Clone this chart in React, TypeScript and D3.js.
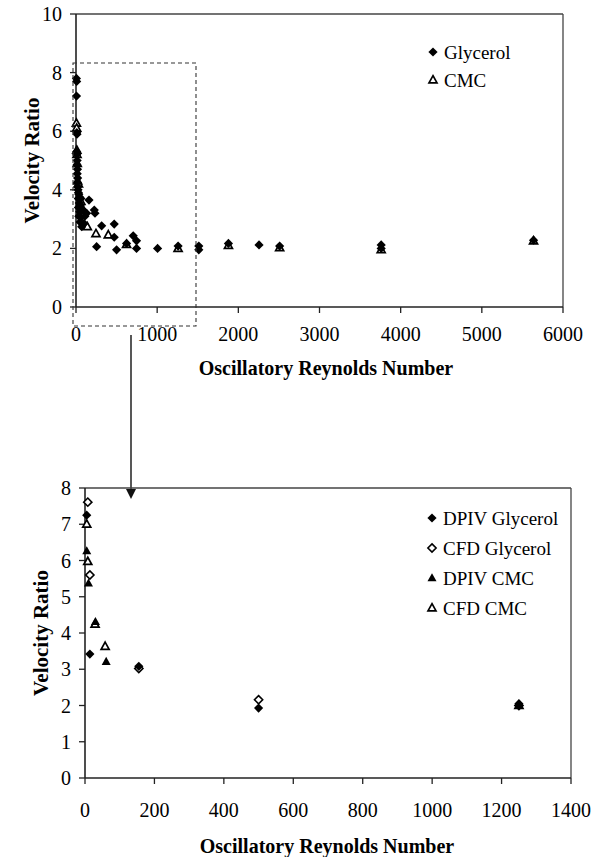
import React from "react";
import * as d3 from "d3";

// ---- Top chart data (Oscillatory Reynolds Number, Velocity Ratio) ----
const topGlycerolRe = [5, 8, 6, 10, 12, 8, 10, 14, 12, 18, 15, 20, 16, 22, 25, 30, 35, 28, 45, 60, 40, 55, 30, 70, 45, 90, 35, 60, 110, 50, 70, 100, 131, 160, 225, 234, 254, 316, 471, 471, 500, 623, 705, 746, 746, 1005, 1258, 1513, 1513, 1878, 2255, 2509, 3760, 3760, 5637];
const topGlycerolVR = [7.8, 7.7, 7.2, 5.95, 5.9, 5.3, 5.2, 5.0, 4.85, 4.7, 4.55, 4.4, 4.25, 4.1, 4.0, 3.9, 3.85, 3.7, 3.75, 3.7, 3.55, 3.45, 3.4, 3.35, 3.25, 3.3, 3.1, 3.05, 3.1, 2.9, 2.74, 2.85, 3.2, 3.65, 3.31, 3.2, 2.06, 2.77, 2.83, 2.38, 1.95, 2.17, 2.43, 2.26, 2.0, 2.0, 2.08, 2.08, 1.95, 2.17, 2.12, 2.08, 2.12, 2.0, 2.28];
const topCmcRe = [5, 8, 10, 12, 15, 20, 30, 60, 70, 139, 246, 398, 623, 1258, 1878, 2509, 3760, 5637];
const topCmcVR = [6.27, 6.1, 5.35, 5.2, 4.9, 4.3, 4.2, 3.6, 3.3, 2.74, 2.5, 2.46, 2.13, 2.0, 2.1, 2.02, 1.95, 2.25];

// ---- Bottom chart data ----
const dpivGlyRe = [5, 14, 155, 500, 1250];
const dpivGlyVR = [7.25, 3.42, 3.08, 1.93, 2.05];
const cfdGlyRe = [8, 14, 155, 500, 1250];
const cfdGlyVR = [7.61, 5.6, 3.02, 2.16, 2.0];
const dpivCmcRe = [5, 10, 30, 61, 1250];
const dpivCmcVR = [6.26, 5.37, 4.31, 3.21, 2.0];
const cfdCmcRe = [5, 8, 29, 58, 1250];
const cfdCmcVR = [7.0, 5.97, 4.24, 3.63, 2.0];

const topXTicks = [0, 1000, 2000, 3000, 4000, 5000, 6000];
const topYTicks = [0, 2, 4, 6, 8, 10];
const botXTicks = [0, 200, 400, 600, 800, 1000, 1200, 1400];
const botYTicks = [0, 1, 2, 3, 4, 5, 6, 7, 8];

const topLegend = ["Glycerol", "CMC"];
const botLegend = ["DPIV Glycerol", "CFD Glycerol", "DPIV CMC", "CFD CMC"];

const FONT = "Liberation Serif";
const AX = "#222";

const diamondPath = (r: number) => `M0,${-r}L${r},0L0,${r}L${-r},0Z`;
const triPath = (w: number) => {
  const h = w * 0.9;
  return `M0,${-h * 0.6}L${w / 2},${h * 0.4}L${-w / 2},${h * 0.4}Z`;
};

type Kind = "fd" | "od" | "ft" | "ot";

function Marker({ kind, x, y }: { kind: Kind; x: number; y: number }) {
  if (kind === "fd") return <path d={diamondPath(4.6)} transform={`translate(${x},${y})`} fill="#000" />;
  if (kind === "od") return <path d={diamondPath(4.1)} transform={`translate(${x},${y})`} fill="#fff" stroke="#000" strokeWidth={1.6} />;
  if (kind === "ft") return <path d={triPath(9)} transform={`translate(${x},${y})`} fill="#000" />;
  return <path d={triPath(8)} transform={`translate(${x},${y})`} fill="#fff" stroke="#000" strokeWidth={1.7} />;
}

function Axes({ x, y, xTicks, yTicks, left, right, top, bottom, xLabelY, xTitleY, yTitleX, xTitleX }: any) {
  return (
    <g>
      <line x1={left} x2={right} y1={top} y2={top} stroke="#444" strokeWidth={1.3} />
      <line x1={right} x2={right} y1={top} y2={bottom} stroke="#444" strokeWidth={1.3} />
      <line x1={left} x2={left} y1={top} y2={bottom} stroke={AX} strokeWidth={1.6} />
      <line x1={left} x2={right} y1={bottom} y2={bottom} stroke={AX} strokeWidth={1.6} />
      {yTicks.map((t: number) => (
        <g key={"y" + t}>
          <line x1={left - 6} x2={left} y1={y(t)} y2={y(t)} stroke={AX} strokeWidth={1.3} />
          <text x={left - 14} y={y(t)} dy="0.35em" textAnchor="end" fontSize={20} fontFamily={FONT}>{t}</text>
        </g>
      ))}
      {xTicks.map((t: number) => (
        <g key={"x" + t}>
          <line x1={x(t)} x2={x(t)} y1={bottom} y2={bottom + 6} stroke={AX} strokeWidth={1.3} />
          <text x={x(t)} y={xLabelY} dy="0.35em" textAnchor="middle" fontSize={20} fontFamily={FONT}>{t}</text>
        </g>
      ))}
      <text x={xTitleX} y={xTitleY} dy="0.35em" textAnchor="middle" fontSize={20} fontWeight="bold" fontFamily={FONT}>
        Oscillatory Reynolds Number
      </text>
      <text transform={`translate(${yTitleX},${(top + bottom) / 2}) rotate(-90)`} dy="0.35em" textAnchor="middle" fontSize={21} fontWeight="bold" fontFamily={FONT}>
        Velocity Ratio
      </text>
    </g>
  );
}

export default function App() {
  // top chart
  const tL = 76, tR = 563, tT = 14, tB = 307;
  const tx = d3.scaleLinear().domain([0, 6000]).range([tL, tR]);
  const ty = d3.scaleLinear().domain([0, 10]).range([tB, tT]);
  // bottom chart
  const bL = 85, bR = 571, bT = 488, bB = 778;
  const bx = d3.scaleLinear().domain([0, 1400]).range([bL, bR]);
  const by = d3.scaleLinear().domain([0, 8]).range([bB, bT]);

  const zip = (a: number[], b: number[]) => a.map((v, i) => [v, b[i]]);

  const botSeries: { kind: Kind; pts: number[][] }[] = [
    { kind: "od", pts: zip(cfdGlyRe, cfdGlyVR) },
    { kind: "ot", pts: zip(cfdCmcRe, cfdCmcVR) },
    { kind: "ft", pts: zip(dpivCmcRe, dpivCmcVR) },
    { kind: "fd", pts: zip(dpivGlyRe, dpivGlyVR) },
  ];
  const botKinds: Kind[] = ["fd", "od", "ft", "ot"];

  return (
    <svg width={600} height={857} style={{ position: "absolute", left: 0, top: 0, background: "#fff" }}>
      <rect width={600} height={857} fill="#fff" />
      {/* Top chart */}
      <Axes x={tx} y={ty} xTicks={topXTicks} yTicks={topYTicks} left={tL} right={tR} top={tT} bottom={tB}
        xLabelY={334} xTitleY={368} yTitleX={32} xTitleX={326} />
      {zip(topCmcRe, topCmcVR).map((p, i) => <Marker key={"tc" + i} kind="ot" x={tx(p[0])} y={ty(p[1])} />)}
      {zip(topGlycerolRe, topGlycerolVR).map((p, i) => <Marker key={"tg" + i} kind="fd" x={tx(p[0])} y={ty(p[1])} />)}
      <g>
        {topLegend.map((name, i) => (
          <g key={name}>
            <Marker kind={i === 0 ? "fd" : "ot"} x={433} y={52 + i * 28} />
            <text x={444} y={52 + i * 28} dy="0.35em" fontSize={19} fontFamily={FONT}>{name}</text>
          </g>
        ))}
      </g>
      {/* zoom rectangle and arrow */}
      <rect x={73} y={63} width={123} height={263} fill="none" stroke="#333" strokeWidth={1.1} strokeDasharray="4,3" />
      <line x1={131} x2={131} y1={335} y2={490} stroke="#111" strokeWidth={1.4} />
      <path d="M126,489L136,489L131,499Z" fill="#111" />

      {/* Bottom chart */}
      <Axes x={bx} y={by} xTicks={botXTicks} yTicks={botYTicks} left={bL} right={bR} top={bT} bottom={bB}
        xLabelY={810} xTitleY={846} yTitleX={41} xTitleX={327} />
      {botSeries.map((s) => s.pts.map((p, i) => <Marker key={s.kind + i} kind={s.kind} x={bx(p[0])} y={by(p[1])} />))}
      <g>
        {botLegend.map((name, i) => (
          <g key={name}>
            <Marker kind={botKinds[i]} x={432} y={518 + i * 30} />
            <text x={443} y={518 + i * 30} dy="0.35em" fontSize={19} fontFamily={FONT}>{name}</text>
          </g>
        ))}
      </g>
    </svg>
  );
}
